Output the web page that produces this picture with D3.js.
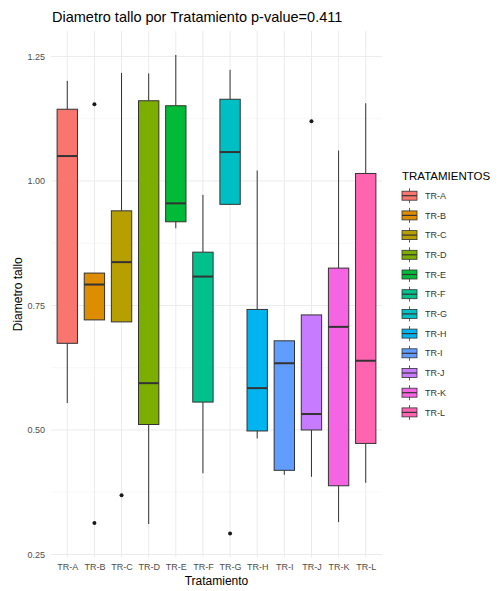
<!DOCTYPE html>
<html>
<head>
<meta charset="utf-8">
<title>Diametro tallo por Tratamiento</title>
<script src="https://d3js.org/d3.v7.min.js"></script>
<style>
  body { margin: 0; background: #fff; }
  svg { display: block; font-family: "Liberation Sans", Arial, sans-serif; }
</style>
</head>
<body>
<div id="chart"></div>
<script>
// values
const categories = ["TR-A","TR-B","TR-C","TR-D","TR-E","TR-F","TR-G","TR-H","TR-I","TR-J","TR-K","TR-L"];
const whiskerLow  = [0.554, 0.721, 0.717, 0.311, 0.905, 0.413, 0.953, 0.483, 0.410, 0.406, 0.315, 0.394];
const q1          = [0.674, 0.721, 0.717, 0.511, 0.918, 0.556, 0.953, 0.498, 0.419, 0.500, 0.388, 0.473];
const medians     = [1.050, 0.792, 0.837, 0.594, 0.955, 0.808, 1.058, 0.584, 0.634, 0.532, 0.707, 0.639];
const q3          = [1.144, 0.815, 0.940, 1.161, 1.151, 0.857, 1.164, 0.742, 0.679, 0.731, 0.825, 1.015];
const whiskerHigh = [1.201, 0.815, 1.217, 1.216, 1.253, 0.972, 1.223, 1.021, 0.679, 0.731, 1.061, 1.156];
const outliers    = [[], [1.154, 0.313], [0.369], [], [], [], [0.292], [], [], [1.120], [], []];
const colors = ["#F8766D","#DE8C00","#B79F00","#7CAE00","#00BA38","#00C08B",
                "#00BFC4","#00B4F0","#619CFF","#C77CFF","#F564E3","#FF64B0"];
const yTicks = [0.25, 0.50, 0.75, 1.00, 1.25];

const W = 501, H = 591;
const panel = { left: 51, right: 382, top: 31, bottom: 557.5 };

const svg = d3.select("#chart").append("svg")
  .attr("width", W).attr("height", H);

// y domain = data range + 5% like ggplot
const allVals = whiskerLow.concat(whiskerHigh, outliers.flat());
const lo = d3.min(allVals), hi = d3.max(allVals);
const pad = (hi - lo) * 0.05;
const y = d3.scaleLinear().domain([lo - pad, hi + pad]).range([panel.bottom, panel.top]);
const x = d3.scalePoint().domain(categories).range([panel.left, panel.right]).padding(0.6);
const boxW = x.step() * 0.75;

const data = categories.map((c, i) => ({
  cat: c, lo: whiskerLow[i], q1: q1[i], med: medians[i], q3: q3[i], hi: whiskerHigh[i],
  out: outliers[i], color: colors[i]
}));

// grid
const grid = svg.append("g");
const minor = d3.range(0.375, 1.26, 0.25);
grid.selectAll(".minor").data(minor).enter().append("line")
  .attr("x1", panel.left).attr("x2", panel.right)
  .attr("y1", d => y(d)).attr("y2", d => y(d))
  .attr("stroke", "#f2f2f2").attr("stroke-width", 0.6);
grid.selectAll(".hmajor").data(yTicks).enter().append("line")
  .attr("x1", panel.left).attr("x2", panel.right)
  .attr("y1", d => y(d)).attr("y2", d => y(d))
  .attr("stroke", "#ebebeb").attr("stroke-width", 1);
grid.selectAll(".vmajor").data(categories).enter().append("line")
  .attr("x1", d => x(d)).attr("x2", d => x(d))
  .attr("y1", panel.top).attr("y2", panel.bottom)
  .attr("stroke", "#ebebeb").attr("stroke-width", 1);

// axes (text only, theme_minimal)
const yAxis = svg.append("g")
  .attr("transform", `translate(${panel.left},0)`)
  .call(d3.axisLeft(y).tickValues(yTicks).tickFormat(d3.format(".2f")).tickSize(0).tickPadding(6));
yAxis.select(".domain").remove();
yAxis.selectAll("text").attr("font-size", 9).attr("fill", "#4d4d4d")
  .attr("font-family", "Liberation Sans, Arial, sans-serif");

const xAxis = svg.append("g")
  .attr("transform", `translate(0,${panel.bottom})`)
  .call(d3.axisBottom(x).tickSize(0).tickPadding(6));
xAxis.select(".domain").remove();
xAxis.selectAll("text").attr("font-size", 9).attr("fill", "#4d4d4d")
  .attr("font-family", "Liberation Sans, Arial, sans-serif");

// boxes
const g = svg.append("g").selectAll("g").data(data).enter().append("g");
g.append("line")
  .attr("x1", d => x(d.cat)).attr("x2", d => x(d.cat))
  .attr("y1", d => y(d.hi)).attr("y2", d => y(d.q3))
  .attr("stroke", "#333").attr("stroke-width", 1);
g.append("line")
  .attr("x1", d => x(d.cat)).attr("x2", d => x(d.cat))
  .attr("y1", d => y(d.q1)).attr("y2", d => y(d.lo))
  .attr("stroke", "#333").attr("stroke-width", 1);
g.append("rect")
  .attr("x", d => x(d.cat) - boxW / 2).attr("width", boxW)
  .attr("y", d => y(d.q3)).attr("height", d => y(d.q1) - y(d.q3))
  .attr("fill", d => d.color).attr("stroke", "#333").attr("stroke-width", 1);
g.append("line")
  .attr("x1", d => x(d.cat) - boxW / 2).attr("x2", d => x(d.cat) + boxW / 2)
  .attr("y1", d => y(d.med)).attr("y2", d => y(d.med))
  .attr("stroke", "#333").attr("stroke-width", 2);
g.selectAll("circle").data(d => d.out.map(v => ({ cat: d.cat, v }))).enter().append("circle")
  .attr("cx", d => x(d.cat)).attr("cy", d => y(d.v)).attr("r", 2)
  .attr("fill", "#1a1a1a");

// title and axis titles
svg.append("text").attr("x", 52).attr("y", 22)
  .attr("font-size", 14.5).attr("fill", "#000")
  .text("Diametro tallo por Tratamiento p-value=0.411");
svg.append("text").attr("x", (panel.left + panel.right) / 2).attr("y", 585)
  .attr("text-anchor", "middle").attr("font-size", 12).attr("fill", "#000")
  .text("Tratamiento");
svg.append("text")
  .attr("transform", `translate(22,${(panel.top + panel.bottom) / 2}) rotate(-90)`)
  .attr("text-anchor", "middle").attr("font-size", 12).attr("fill", "#000")
  .text("Diametro tallo");

// legend
const leg = svg.append("g").attr("transform", "translate(402,0)");
leg.append("text").attr("x", 0).attr("y", 179.5)
  .attr("font-size", 11.5).attr("fill", "#000").text("TRATAMIENTOS");
const rowY = i => 195.7 + i * 19.7;
const key = leg.selectAll(".key").data(data).enter().append("g")
  .attr("transform", (d, i) => `translate(0,${rowY(i)})`);
key.append("line").attr("x1", 7.5).attr("x2", 7.5).attr("y1", -7.5).attr("y2", 7.5)
  .attr("stroke", "#333").attr("stroke-width", 0.8);
key.append("rect").attr("x", 0).attr("y", -4.5).attr("width", 15).attr("height", 9)
  .attr("fill", d => d.color).attr("stroke", "#333").attr("stroke-width", 0.8);
key.append("line").attr("x1", 0).attr("x2", 15).attr("y1", 0).attr("y2", 0)
  .attr("stroke", "#333").attr("stroke-width", 1.2);
key.append("text").attr("x", 23).attr("y", 0).attr("dy", "0.35em")
  .attr("font-size", 9).attr("fill", "#333").text(d => d.cat);
</script>
</body>
</html>
